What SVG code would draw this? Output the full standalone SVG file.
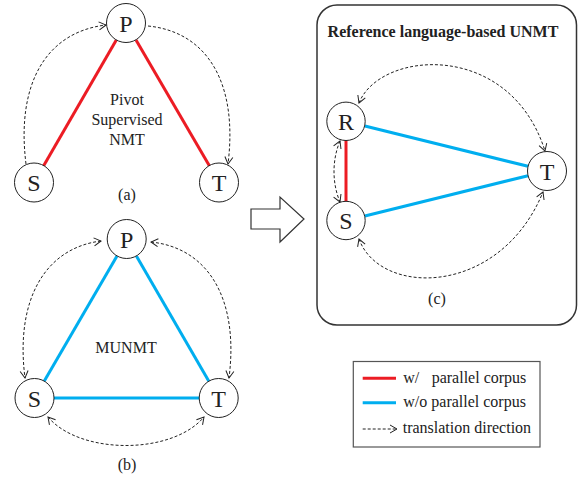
<svg xmlns="http://www.w3.org/2000/svg" width="578" height="477" viewBox="0 0 578 477">
<defs>
<marker id="ah" viewBox="-8 -5 9 10" refX="0" refY="0" markerWidth="9" markerHeight="10" markerUnits="userSpaceOnUse" orient="auto-start-reverse">
<path d="M-7,-4 L0,0 L-7,4" fill="none" stroke="#222" stroke-width="1"/>
</marker>
</defs>
<style>
text{font-family:"Liberation Serif","Times New Roman",serif;fill:#222}
.node circle{fill:#fff;stroke:#222;stroke-width:1}
.node text{font-size:24px;text-anchor:middle}
.lbl{font-size:16px;text-anchor:middle}
.leg{font-size:16px}
.red{stroke:#ec1c24;stroke-width:3;fill:none}
.blue{stroke:#00aeef;stroke-width:3;fill:none}
.dash{stroke:#222;stroke-width:1;fill:none;stroke-dasharray:3 2}
.both{marker-start:url(#ah);marker-end:url(#ah)}
.end{marker-end:url(#ah)}
</style>
<rect width="578" height="477" fill="#fff"/>

<!-- panel c box -->
<rect x="317" y="5" width="259.5" height="320" rx="20" ry="20" fill="#fff" stroke="#333" stroke-width="1.5"/>
<text x="443" y="37" class="lbl" style="font-weight:bold">Reference language-based UNMT</text>

<!-- hollow arrow -->
<polygon points="251,209 280,209 280,197 304,219 280,242 280,229 251,229" fill="#fff" stroke="#333" stroke-width="1.2"/>

<g id="connectors">
<!-- (a) -->
<line class="red" x1="116.3" y1="39.9" x2="43.5" y2="166"/>
<line class="red" x1="136" y1="40" x2="209.5" y2="166"/>
<path class="dash end" d="M26,164 C16,84 46,32 106,25"/>
<path class="dash end" d="M148,26 C208,32 238,84 228,164"/>
<!-- (b) -->
<line class="blue" x1="117" y1="256" x2="44" y2="381.5"/>
<line class="blue" x1="136.4" y1="256" x2="209" y2="381.5"/>
<line class="blue" x1="53.5" y1="398" x2="199.2" y2="398"/>
<path class="dash both" d="M101,241 C45,248 15,300 25,378"/>
<path class="dash both" d="M151,242 C209,248 239,300 229,378"/>
<path class="dash both" d="M48,417 C80,455 172,455 204,417"/>
<!-- (c) -->
<line class="red" x1="346" y1="140.3" x2="346" y2="201.5"/>
<line class="blue" x1="364.9" y1="126" x2="528" y2="166.3"/>
<line class="blue" x1="364.9" y1="216" x2="528" y2="175.7"/>
<path class="dash both" d="M340,141 C332,160 332,183 340,202"/>
<path class="dash both" d="M359,103 C380,50 510,40 545,151"/>
<path class="dash both" d="M359,239 C380,297 500,297 543,192"/>
</g>

<g id="nodeA_P" class="node"><circle cx="126" cy="23" r="19.5"/><text x="126" y="31.5">P</text></g>
<g id="nodeA_S" class="node"><circle cx="34" cy="182.5" r="19.5"/><text x="34" y="191">S</text></g>
<g id="nodeA_T" class="node"><circle cx="219" cy="182.5" r="19.5"/><text x="219" y="191">T</text></g>
<g id="labelA">
<text x="127" y="105" class="lbl">Pivot</text>
<text x="127" y="125" class="lbl">Supervised</text>
<text x="127" y="145" class="lbl">NMT</text>
<text x="127" y="200" class="lbl">(a)</text>
</g>

<g id="nodeB_P" class="node"><circle cx="126.7" cy="239" r="19.5"/><text x="126.7" y="247.5">P</text></g>
<g id="nodeB_S" class="node"><circle cx="34.5" cy="398" r="19.5"/><text x="34.5" y="406.5">S</text></g>
<g id="nodeB_T" class="node"><circle cx="218.7" cy="398" r="19.5"/><text x="218.7" y="406.5">T</text></g>
<g id="labelB">
<text x="126" y="353" class="lbl">MUNMT</text>
<text x="127" y="470" class="lbl">(b)</text>
</g>

<g id="nodeC_R" class="node"><circle cx="346" cy="121.3" r="19.2"/><text x="346" y="129.8">R</text></g>
<g id="nodeC_S" class="node"><circle cx="346" cy="220.5" r="19.2"/><text x="346" y="229">S</text></g>
<g id="nodeC_T" class="node"><circle cx="547" cy="171" r="19.5"/><text x="547" y="179.5">T</text></g>
<text x="437" y="303.5" class="lbl">(c)</text>

<g id="legend">
<rect x="353.3" y="361.5" width="186.7" height="85.5" fill="#fff" stroke="#555" stroke-width="1.2"/>
<line class="red" x1="362.7" y1="378.3" x2="396" y2="378.3"/>
<text x="403.3" y="382.7" class="leg">w/</text>
<text x="431.7" y="382.7" class="leg">parallel corpus</text>
<line class="blue" x1="362.7" y1="402.7" x2="396" y2="402.7"/>
<text x="403.3" y="407.3" class="leg">w/o parallel corpus</text>
<line class="dash end" x1="362.7" y1="429" x2="397" y2="429"/>
<text x="402.7" y="433.3" class="leg">translation direction</text>
</g>
</svg>
